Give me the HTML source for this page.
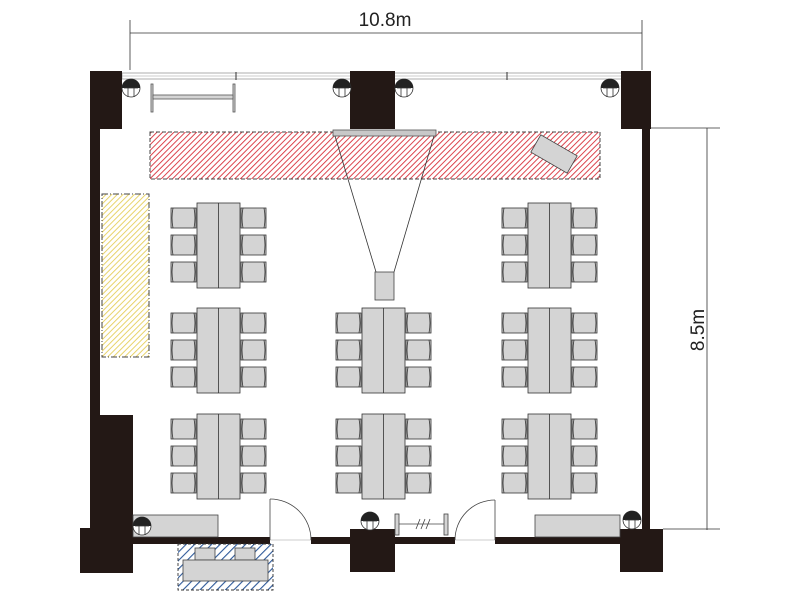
<!DOCTYPE html>
<html><head><meta charset="utf-8"><style>body{margin:0;background:#fff}svg{display:block}</style></head><body>
<svg width="800" height="600" viewBox="0 0 800 600" xmlns="http://www.w3.org/2000/svg" font-family="Liberation Sans, sans-serif">
<defs>
<pattern id="red" width="4" height="4" patternUnits="userSpaceOnUse" patternTransform="rotate(45)"><rect width="4" height="4" fill="#fff"/><line x1="0" y1="0" x2="0" y2="4" stroke="#d8303a" stroke-width="1.8"/></pattern>
<pattern id="yel" width="4" height="4" patternUnits="userSpaceOnUse" patternTransform="rotate(45)"><rect width="4" height="4" fill="#fff"/><line x1="0" y1="0" x2="0" y2="4" stroke="#e6cf5a" stroke-width="1.8"/></pattern>
<pattern id="blu" width="6" height="6" patternUnits="userSpaceOnUse" patternTransform="rotate(45)"><rect width="6" height="6" fill="#fff"/><line x1="0" y1="0" x2="0" y2="6" stroke="#2f5a9a" stroke-width="2.2"/></pattern>
<g id="chL"><rect x="0" y="0" width="25" height="20" fill="#d4d4d4" stroke="#333" stroke-width="0.8"/><path d="M2 0 Q0 10 2 20 M23 0 Q25 10 23 20" fill="none" stroke="#333" stroke-width="0.8"/></g>
<g id="grp">
<use href="#chL" x="-26" y="5"/><use href="#chL" x="-26" y="32"/><use href="#chL" x="-26" y="59"/>
<use href="#chL" x="44" y="5"/><use href="#chL" x="44" y="32"/><use href="#chL" x="44" y="59"/>
<rect x="0" y="0" width="43" height="85" fill="#d4d4d4" stroke="#333" stroke-width="0.8"/>
<line x1="21.5" y1="0" x2="21.5" y2="85" stroke="#333" stroke-width="0.8"/>
</g>
<g id="col"><circle r="9" fill="#fff" stroke="#333" stroke-width="0.8"/><path d="M-9 0 A9 9 0 0 1 9 0 Z" fill="#222"/><path d="M-3 0 V9 M3 0 V9 M-7 0 H7" stroke="#333" stroke-width="0.8"/></g>
</defs>

<line x1="130" y1="33" x2="642" y2="33" stroke="#333" stroke-width="0.8"/>
<line x1="130" y1="20" x2="130" y2="70" stroke="#333" stroke-width="0.8"/>
<line x1="642" y1="20" x2="642" y2="70" stroke="#333" stroke-width="0.8"/>
<text x="385" y="26" font-size="19" text-anchor="middle" fill="#222">10.8m</text>
<line x1="707" y1="128" x2="707" y2="530" stroke="#333" stroke-width="0.8"/>
<line x1="651" y1="128" x2="720" y2="128" stroke="#333" stroke-width="0.8"/>
<line x1="663" y1="529" x2="720" y2="529" stroke="#333" stroke-width="0.8"/>
<text transform="translate(704,330) rotate(-90)" font-size="19" text-anchor="middle" fill="#222">8.5m</text>

<rect x="122" y="73" width="500" height="6" fill="#fff" stroke="#999" stroke-width="0.8"/>
<line x1="122" y1="76" x2="622" y2="76" stroke="#999" stroke-width="0.6"/>
<line x1="236" y1="72" x2="236" y2="80" stroke="#333"/><line x1="507" y1="72" x2="507" y2="80" stroke="#333"/>

<g fill="#231815">
<rect x="90" y="71" width="32" height="58"/>
<rect x="90" y="128" width="10" height="290"/>
<rect x="90" y="415" width="43" height="115"/>
<rect x="80" y="528" width="53" height="45"/>
<rect x="350" y="71" width="45" height="58"/>
<rect x="621" y="71" width="30" height="58"/>
<rect x="642" y="128" width="8" height="402"/>
<rect x="620" y="529" width="43" height="43"/>
<rect x="350" y="529" width="45" height="43"/>
<rect x="133" y="537" width="137" height="7"/>
<rect x="311" y="537" width="39" height="7"/>
<rect x="395" y="537" width="60" height="7"/>
<rect x="495" y="537" width="125" height="7"/>
</g>
<g fill="none" stroke="#444" stroke-width="0.8">
<line x1="270" y1="540" x2="311" y2="540" stroke="#bbb"/>
<line x1="270" y1="499" x2="270" y2="540"/><path d="M270 499 A41 41 0 0 1 311 540"/>
<line x1="455" y1="540" x2="495" y2="540" stroke="#bbb"/>
<path d="M455 540 A40 40 0 0 1 495 500"/><line x1="495" y1="500" x2="495" y2="540"/>
</g>

<use href="#col" x="131" y="88"/><use href="#col" x="342" y="88"/><use href="#col" x="404" y="88"/><use href="#col" x="610" y="88"/>
<g stroke="#555" stroke-width="0.8" fill="#d4d4d4"><rect x="151" y="84" width="2" height="28"/><rect x="233" y="84" width="2" height="28"/><rect x="153" y="95" width="80" height="4"/></g>

<rect x="150" y="132" width="450" height="47" fill="url(#red)" stroke="#444" stroke-width="1" stroke-dasharray="4,2"/>
<rect x="102" y="194" width="47" height="163" fill="url(#yel)" stroke="#444" stroke-width="1" stroke-dasharray="6,2,1,2"/>
<rect x="178" y="544" width="95" height="46" fill="url(#blu)" stroke="#333" stroke-width="0.9" stroke-dasharray="3,2"/>
<g fill="#d4d4d4" stroke="#444" stroke-width="0.8"><rect x="195" y="548" width="20" height="12"/><rect x="235" y="548" width="20" height="12"/><rect x="183" y="560" width="85" height="21"/></g>
<rect x="533" y="144" width="42" height="20" fill="#d4d4d4" stroke="#444" stroke-width="0.8" transform="rotate(30 554 154)"/>

<rect x="333" y="130" width="103" height="6" fill="#c8c8c8" stroke="#555" stroke-width="0.8"/>
<line x1="335" y1="136" x2="376" y2="272" stroke="#333" stroke-width="0.8"/>
<line x1="434" y1="136" x2="394" y2="272" stroke="#333" stroke-width="0.8"/>
<rect x="375" y="272" width="19" height="28" fill="#d4d4d4" stroke="#444" stroke-width="0.8"/>

<use href="#grp" x="197" y="203"/><use href="#grp" x="528" y="203"/>
<use href="#grp" x="197" y="308"/><use href="#grp" x="362" y="308"/><use href="#grp" x="528" y="308"/>
<use href="#grp" x="197" y="414"/><use href="#grp" x="362" y="414"/><use href="#grp" x="528" y="414"/>

<rect x="133" y="515" width="85" height="22" fill="#d4d4d4" stroke="#444" stroke-width="0.8"/>
<rect x="535" y="515" width="85" height="22" fill="#d4d4d4" stroke="#444" stroke-width="0.8"/>
<use href="#col" x="142" y="526"/><use href="#col" x="370" y="521"/><use href="#col" x="632" y="520"/>
<g stroke="#444" stroke-width="0.8" fill="#d4d4d4"><rect x="395" y="514" width="4" height="21"/><rect x="444" y="514" width="4" height="21"/><line x1="399" y1="524" x2="444" y2="524"/><path d="M416 529 L420 519 M421 529 L425 519 M426 529 L430 519" fill="none"/></g>
</svg>
</body></html>
